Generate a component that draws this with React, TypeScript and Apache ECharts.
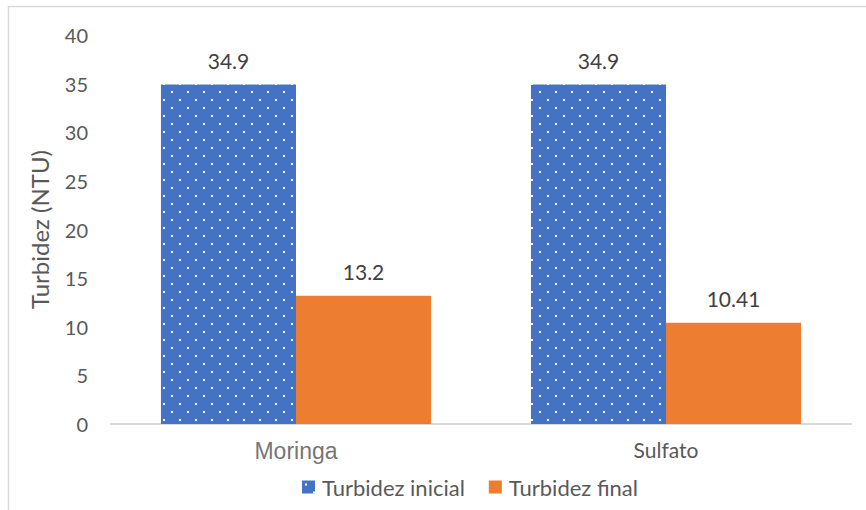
import React, { useEffect, useRef } from "react";
import * as echarts from "echarts";

const categories = ["Moringa", "Sulfato"];
const seriesNames = ["Turbidez inicial", "Turbidez final"];
const inicialValues = [34.9, 34.9];
const finalValues = [13.2, 10.41];
const yTicks = { min: 0, max: 40, interval: 5 };

const BLUE = "#4472c4";
const ORANGE = "#ed7d31";
const FONT = "Lato, 'Open Sans', sans-serif";

// Blue fill with a staggered grid of small white dots
function makeDotPattern(): HTMLCanvasElement {
  const c = document.createElement("canvas");
  c.width = 16;
  c.height = 16;
  const ctx = c.getContext("2d")!;
  ctx.fillStyle = BLUE;
  ctx.fillRect(0, 0, 16, 16);
  ctx.fillStyle = "#ffffff";
  ctx.fillRect(3, 3, 2, 2);
  ctx.fillRect(11, 11, 2, 2);
  return c;
}

export default function App() {
  const ref = useRef<HTMLDivElement>(null);

  useEffect(() => {
    if (!ref.current) return;
    const chart = echarts.init(ref.current, undefined, { renderer: "svg" });
    const dots = { image: makeDotPattern(), repeat: "repeat" as const };

    const valueLabel = {
      show: true,
      position: "top" as const,
      distance: 14,
      fontFamily: FONT,
      fontSize: 21,
      color: "#404040",
    };

    chart.setOption({
      animation: false,
      backgroundColor: "#ffffff",
      textStyle: { fontFamily: FONT },
      graphic: [
        {
          type: "rect",
          shape: { x: 8.5, y: 6.5, width: 900, height: 540 },
          style: { fill: "none", stroke: "#d9d9d9", lineWidth: 1.5 },
          silent: true,
        },
      ],
      grid: { left: 111, right: 15, top: 35, bottom: 86 },
      legend: {
        data: seriesNames,
        bottom: 7,
        left: 297,
        icon: "rect",
        itemWidth: 13,
        itemHeight: 13,
        itemGap: 24,
        textStyle: {
          fontFamily: FONT,
          fontSize: 22,
          color: "#595959",
          padding: [0, 0, 0, 2],
        },
      },
      xAxis: {
        type: "category",
        data: categories,
        axisLine: { lineStyle: { color: "#d9d9d9", width: 2 } },
        axisTick: { show: false },
        axisLabel: {
          margin: 15,
          formatter: (v: string) => (v === "Moringa" ? `{a|${v}}` : `{b|${v}}`),
          rich: {
            a: {
              fontFamily: "'Liberation Sans', Arial, sans-serif",
              fontSize: 23,
              color: "#767676",
            },
            b: { fontFamily: FONT, fontSize: 21, color: "#595959" },
          },
        },
      },
      yAxis: {
        type: "value",
        min: yTicks.min,
        max: yTicks.max,
        interval: yTicks.interval,
        name: "Turbidez (NTU)",
        nameLocation: "middle",
        nameGap: 60,
        nameTextStyle: { fontFamily: FONT, fontSize: 24, color: "#595959" },
        axisLine: { show: false },
        axisTick: { show: false },
        splitLine: { show: false },
        axisLabel: { margin: 23, fontSize: 20, color: "#595959", fontFamily: FONT },
      },
      series: [
        {
          name: seriesNames[0],
          type: "bar",
          data: inicialValues,
          barGap: "0%",
          barCategoryGap: "27%",
          itemStyle: { color: dots as any },
          label: valueLabel,
        },
        {
          name: seriesNames[1],
          type: "bar",
          data: finalValues,
          itemStyle: { color: ORANGE },
          label: valueLabel,
        },
      ],
    });

    return () => chart.dispose();
  }, []);

  return (
    <div
      ref={ref}
      style={{ position: "fixed", left: 0, top: 0, width: 866, height: 510 }}
    />
  );
}
